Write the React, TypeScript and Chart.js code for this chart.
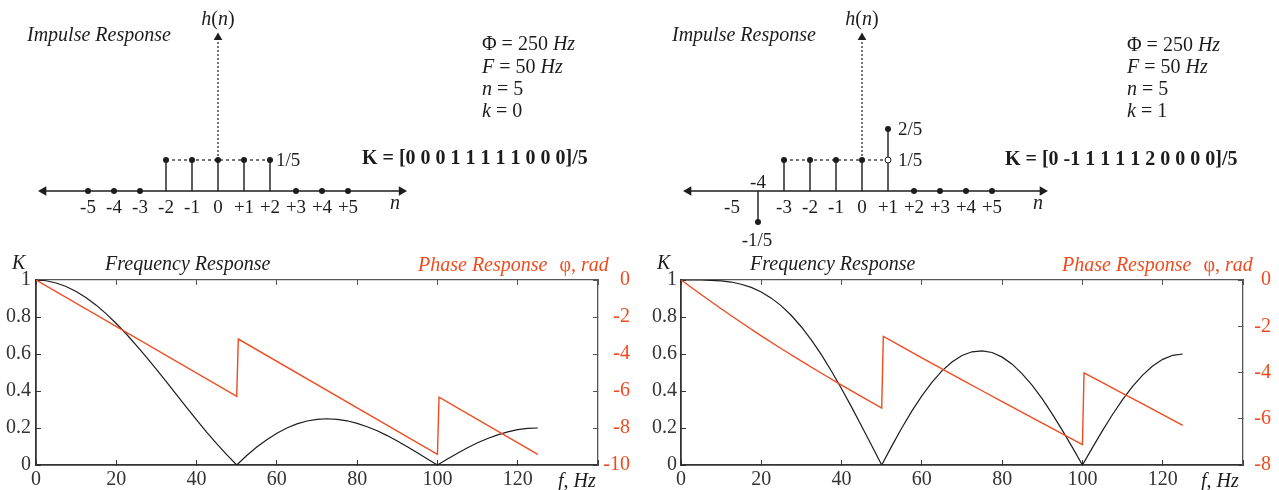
import React, { useEffect, useRef } from 'react';
import { Chart, registerables } from 'chart.js';
Chart.register(...registerables);

const SERIF = '"Liberation Serif", "Times New Roman", Times, serif';
const RED = '#ef4b20';
const INK = '#1c1c1c';
const FRAME = '#333333';
const FRAME_LIGHT = '#555555';

// ---------- impulse response data ----------
const N_INDEX = [-5, -4, -3, -2, -1, 0, 1, 2, 3, 4, 5];
const N_LABELS = ['-5', '-4', '-3', '-2', '-1', '0', '+1', '+2', '+3', '+4', '+5'];
const TAPS_LEFT = [0, 0, 0, 1, 1, 1, 1, 1, 0, 0, 0];
const TAPS_RIGHT = [0, -1, 1, 1, 1, 1, 2, 0, 0, 0, 0];
const H_LEFT = [0, 0, 0, 0.2, 0.2, 0.2, 0.2, 0.2, 0, 0, 0];
const H_RIGHT = [null, -0.2, 0.2, 0.2, 0.2, 0.2, 0.4, 0, 0, 0, 0];
const LEVEL = 0.2;
const DASH_LEFT = [-2, 2];
const DASH_RIGHT = [-3, 1];
const AXIS_ENDS_LEFT = [-6.71, 7.06];
const AXIS_ENDS_RIGHT = [-6.67, 6.94];
const H_AXIS_TOP = 0.99;

// ---------- frequency / phase response data ----------
const FREQ = [0, 2.5, 5, 7.5, 10, 12.5, 15, 17.5, 20, 22.5, 25, 27.5, 30, 32.5, 35, 37.5, 40, 42.5, 45, 47.5,
  50, 52.5, 55, 57.5, 60, 62.5, 65, 67.5, 70, 72.5, 75, 77.5, 80, 82.5, 85, 87.5, 90, 92.5, 95, 97.5,
  100, 102.5, 105, 107.5, 110, 112.5, 115, 117.5, 120, 122.5, 125];
const K_LEFT = [1, 0.996, 0.984, 0.965, 0.938, 0.904, 0.864, 0.817, 0.765, 0.708, 0.647, 0.583, 0.517, 0.449, 0.380, 0.312, 0.244, 0.178, 0.115, 0.056,
  0, 0.051, 0.097, 0.137, 0.172, 0.200, 0.222, 0.238, 0.247, 0.250, 0.247, 0.239, 0.225, 0.207, 0.185, 0.159, 0.130, 0.099, 0.066, 0.033,
  0, 0.033, 0.064, 0.093, 0.120, 0.143, 0.163, 0.179, 0.191, 0.198, 0.200];
const K_RIGHT = [1, 1.000, 1.000, 0.998, 0.995, 0.989, 0.977, 0.960, 0.935, 0.902, 0.860, 0.808, 0.746, 0.675, 0.595, 0.507, 0.412, 0.313, 0.209, 0.105,
  0, 0.102, 0.200, 0.291, 0.374, 0.447, 0.509, 0.557, 0.592, 0.612, 0.617, 0.608, 0.583, 0.545, 0.493, 0.430, 0.357, 0.275, 0.187, 0.095,
  0, 0.094, 0.186, 0.273, 0.353, 0.425, 0.486, 0.535, 0.571, 0.593, 0.600];
const PHASE_LEFT_F = [0, 50, 50.4, 100, 100.4, 125];
const PHASE_LEFT = [0, -6.283, -3.192, -9.425, -6.333, -9.425];
const PHASE_RIGHT_F = [0, 5, 10, 15, 20, 25, 30, 35, 40, 45, 50, 50.4, 55, 60, 65, 70, 75, 80, 85, 90, 95, 100, 100.4, 105, 110, 115, 120, 125];
const PHASE_RIGHT = [0, -0.626, -1.242, -1.839, -2.416, -2.972, -3.510, -4.033, -4.544, -5.046, -5.539,
  -2.436, -2.884, -3.366, -3.844, -4.318, -4.789, -5.258, -5.725, -6.190, -6.655, -7.118,
  -4.013, -4.439, -4.900, -5.361, -5.822, -6.283];

// ---------- plugin drawing numeric labels at data positions ----------
function makeTextPlugin(items: any[]) {
  return {
    id: 'dataText',
    afterDatasetsDraw(chart: any) {
      const { ctx } = chart;
      const xs = chart.scales.x;
      const ys = chart.scales.y;
      ctx.save();
      ctx.fillStyle = INK;
      ctx.font = '19px ' + SERIF;
      ctx.textBaseline = 'alphabetic';
      for (const it of items) {
        ctx.textAlign = it.align || 'center';
        ctx.fillText(it.text, xs.getPixelForValue(it.x) + (it.dx || 0), ys.getPixelForValue(it.y) + (it.dy || 0) + 6.3);
      }
      ctx.restore();
    },
  };
}

function impulseConfig(p: any) {
  const stems: any[] = [];
  N_INDEX.forEach((n, i) => {
    const v = p.h[i];
    if (v !== null && v !== 0) stems.push({ x: n, y: 0 }, { x: n, y: v }, { x: n, y: null });
  });
  const dots: any[] = [];
  N_INDEX.forEach((n, i) => {
    if (p.h[i] !== null) dots.push({ x: n, y: p.h[i] });
  });
  const datasets: any[] = [
    { type: 'line', data: dots, showLine: false, pointRadius: 3, pointBackgroundColor: INK, pointBorderWidth: 0, order: 0, clip: false },
    { type: 'line', data: stems, borderColor: INK, borderWidth: 1.4, pointRadius: 0, spanGaps: false, order: 2, clip: false },
    {
      type: 'line', data: [{ x: p.axisEnds[0], y: 0 }, { x: p.axisEnds[1], y: 0 }], borderColor: INK, borderWidth: 1.6,
      pointRadius: 5.5, pointStyle: 'triangle', pointRotation: [-90, 90], pointBackgroundColor: INK, pointBorderWidth: 0, order: 3, clip: false,
    },
    {
      type: 'line', data: [{ x: 0, y: LEVEL }, { x: 0, y: H_AXIS_TOP }], borderColor: INK, borderWidth: 1.2, borderDash: [2, 2],
      pointRadius: [0, 5], pointStyle: 'triangle', pointRotation: 0, pointBackgroundColor: INK, pointBorderWidth: 0, order: 4, clip: false,
    },
    {
      type: 'line', data: [{ x: p.dash[0], y: LEVEL }, { x: p.dash[1], y: LEVEL }], borderColor: INK, borderWidth: 1.2, borderDash: [3, 3],
      pointRadius: 0, order: 4, clip: false,
    },
  ];
  if (p.open) {
    datasets.push({
      type: 'line', data: [{ x: p.open, y: LEVEL }], showLine: false, pointRadius: 3, pointBackgroundColor: '#ffffff',
      pointBorderColor: INK, pointBorderWidth: 1, order: -1, clip: false,
    });
  }
  return {
    type: 'line',
    data: { datasets },
    options: {
      responsive: false, animation: false, events: [],
      layout: { padding: p.padding },
      plugins: { legend: { display: false }, tooltip: { enabled: false } },
      scales: {
        x: { type: 'linear', display: false, min: -8, max: 8 },
        y: { type: 'linear', display: false, min: -0.3, max: 1.0 },
      },
    },
    plugins: [makeTextPlugin(p.labels)],
  };
}

function freqConfig(p: any) {
  const grid = (c: string) => ({ display: true, drawOnChartArea: false, drawTicks: true, tickLength: -5, tickColor: c, tickWidth: 1 });
  const font = { family: SERIF, size: 20 };
  return {
    type: 'line',
    data: {
      datasets: [
        { data: FREQ.map((f, i) => ({ x: f, y: p.k[i] })), yAxisID: 'y', borderColor: INK, borderWidth: 1.2, pointRadius: 0, order: 1 },
        { data: p.phaseF.map((f: number, i: number) => ({ x: f, y: p.phase[i] })), yAxisID: 'yP', borderColor: RED, borderWidth: 1.4, pointRadius: 0, order: 0 },
      ],
    },
    options: {
      responsive: false, animation: false, events: [],
      layout: { padding: { left: 0, right: p.padRight, top: 40, bottom: 0 } },
      plugins: { legend: { display: false }, tooltip: { enabled: false } },
      scales: {
        x: {
          type: 'linear', position: 'bottom', min: 0, max: 140,
          afterFit: (s: any) => { s.height = 25; },
          ticks: { stepSize: 20, autoSkip: false, maxRotation: 0, padding: 8, color: '#333', font, callback: (v: any) => (v === 140 ? '' : String(v)) },
          grid: grid(FRAME), border: { display: true, color: FRAME, width: 1.8 },
        },
        x2: {
          type: 'linear', position: 'top', min: 0, max: 140,
          afterFit: (s: any) => { s.height = 0; },
          ticks: { stepSize: 20, autoSkip: false, callback: () => '' },
          grid: grid(FRAME_LIGHT), border: { display: true, color: FRAME_LIGHT, width: 1.3 },
        },
        y: {
          type: 'linear', position: 'left', min: 0, max: 1,
          afterFit: (s: any) => { s.width = p.leftW; },
          ticks: { stepSize: 0.2, padding: p.leftPad, color: '#333', font, callback: (v: any) => String(Math.round(v * 10) / 10) },
          grid: grid(FRAME), border: { display: true, color: FRAME, width: 1.8 },
        },
        yP: {
          type: 'linear', position: 'right', min: p.phaseMin, max: 0,
          afterFit: (s: any) => { s.width = p.rightW; },
          ticks: { stepSize: 2, color: RED, font, crossAlign: 'far', callback: (v: any) => String(Math.round(v)) },
          grid: grid(FRAME_LIGHT), border: { display: true, color: FRAME_LIGHT, width: 1.3 },
        },
      },
    },
  };
}

function ChartCanvas({ x, y, w, h, make }: any) {
  const ref = useRef<HTMLCanvasElement>(null);
  useEffect(() => {
    const chart = new Chart(ref.current as HTMLCanvasElement, make());
    return () => chart.destroy();
  }, []);
  return <canvas ref={ref} width={w} height={h} style={{ position: 'absolute', left: x, top: y, width: w, height: h }} />;
}

function T({ x, cy, color = INK, bold = false, center = false, children }: any) {
  return (
    <div style={{
      position: 'absolute', left: x, top: cy - 10, fontFamily: SERIF, fontSize: 20, lineHeight: '20px', color,
      whiteSpace: 'nowrap', fontWeight: bold ? 'bold' : 'normal', transform: center ? 'translateX(-50%)' : undefined,
    }}>{children}</div>
  );
}

const leftTickLabels = N_INDEX.map((n, i) => ({ x: n, y: 0, dy: 16, text: N_LABELS[i] }));
const rightTickLabels = N_INDEX.filter((n) => n !== -4).map((n) => ({ x: n, y: 0, dy: 16, text: N_LABELS[N_INDEX.indexOf(n)] }));

const LEFT_IMPULSE = {
  h: H_LEFT, dash: DASH_LEFT, axisEnds: AXIS_ENDS_LEFT, open: null,
  padding: { left: 10, right: 214, top: 36, bottom: 12.5 },
  labels: [...leftTickLabels, { x: 2, y: LEVEL, dx: 6, text: '1/5', align: 'left' }],
};
const RIGHT_IMPULSE = {
  h: H_RIGHT, dash: DASH_RIGHT, axisEnds: AXIS_ENDS_RIGHT, open: 1,
  padding: { left: 14, right: 209, top: 36, bottom: 12.5 },
  labels: [
    ...rightTickLabels,
    { x: -4, y: 0, dy: -9, text: '-4' },
    { x: 1, y: 0.4, dx: 10, text: '2/5', align: 'left' },
    { x: 1, y: LEVEL, dx: 10, text: '1/5', align: 'left' },
    { x: -4, y: -0.2, dx: -1, dy: 18, text: '-1/5' },
  ],
};

export default function App() {
  const kLeft = `K = [${TAPS_LEFT.join(' ')}]/5`;
  const kRight = `K = [${TAPS_RIGHT.join(' ')}]/5`;
  return (
    <div style={{ position: 'absolute', left: 0, top: 0, width: 1279, height: 490, background: '#fff', overflow: 'hidden' }}>
      <ChartCanvas x={0} y={0} w={640} h={250} make={() => impulseConfig(LEFT_IMPULSE)} />
      <ChartCanvas x={640} y={0} w={639} h={250} make={() => impulseConfig(RIGHT_IMPULSE)} />
      <ChartCanvas x={0} y={240} w={640} h={250} make={() => freqConfig({ k: K_LEFT, phaseF: PHASE_LEFT_F, phase: PHASE_LEFT, phaseMin: -10, leftW: 36, rightW: 32, padRight: 10, leftPad: 10 })} />
      <ChartCanvas x={640} y={240} w={639} h={250} make={() => freqConfig({ k: K_RIGHT, phaseF: PHASE_RIGHT_F, phase: PHASE_RIGHT, phaseMin: -8, leftW: 41, rightW: 28, padRight: 8, leftPad: 9 })} />

      {/* left panel texts */}
      <T x={218} cy={18} center><i>h</i>(<i>n</i>)</T>
      <T x={27} cy={34}><i>Impulse Response</i></T>
      <T x={390} cy={202}><i>n</i></T>
      <T x={482} cy={43}>Φ = 250 <i>Hz</i></T>
      <T x={482} cy={66}><i>F</i> = 50 <i>Hz</i></T>
      <T x={482} cy={88}><i>n</i> = 5</T>
      <T x={482} cy={110}><i>k</i> = 0</T>
      <T x={362} cy={157} bold>{kLeft}</T>
      <T x={12} cy={262}><i>K</i></T>
      <T x={105} cy={263}><i>Frequency Response</i></T>
      <T x={418} cy={264} color={RED}><i>Phase Response</i><span style={{ marginLeft: 12 }}>φ</span>, <i>rad</i></T>
      <T x={558} cy={480}><i>f</i>, <i>Hz</i></T>

      {/* right panel texts */}
      <T x={862} cy={18} center><i>h</i>(<i>n</i>)</T>
      <T x={672} cy={34}><i>Impulse Response</i></T>
      <T x={1033} cy={202}><i>n</i></T>
      <T x={1127} cy={44}>Φ = 250 <i>Hz</i></T>
      <T x={1127} cy={66}><i>F</i> = 50 <i>Hz</i></T>
      <T x={1127} cy={88}><i>n</i> = 5</T>
      <T x={1127} cy={110}><i>k</i> = 1</T>
      <T x={1005} cy={158} bold>{kRight}</T>
      <T x={657} cy={262}><i>K</i></T>
      <T x={750} cy={263}><i>Frequency Response</i></T>
      <T x={1062} cy={264} color={RED}><i>Phase Response</i><span style={{ marginLeft: 12 }}>φ</span>, <i>rad</i></T>
      <T x={1201} cy={480}><i>f</i>, <i>Hz</i></T>
    </div>
  );
}
